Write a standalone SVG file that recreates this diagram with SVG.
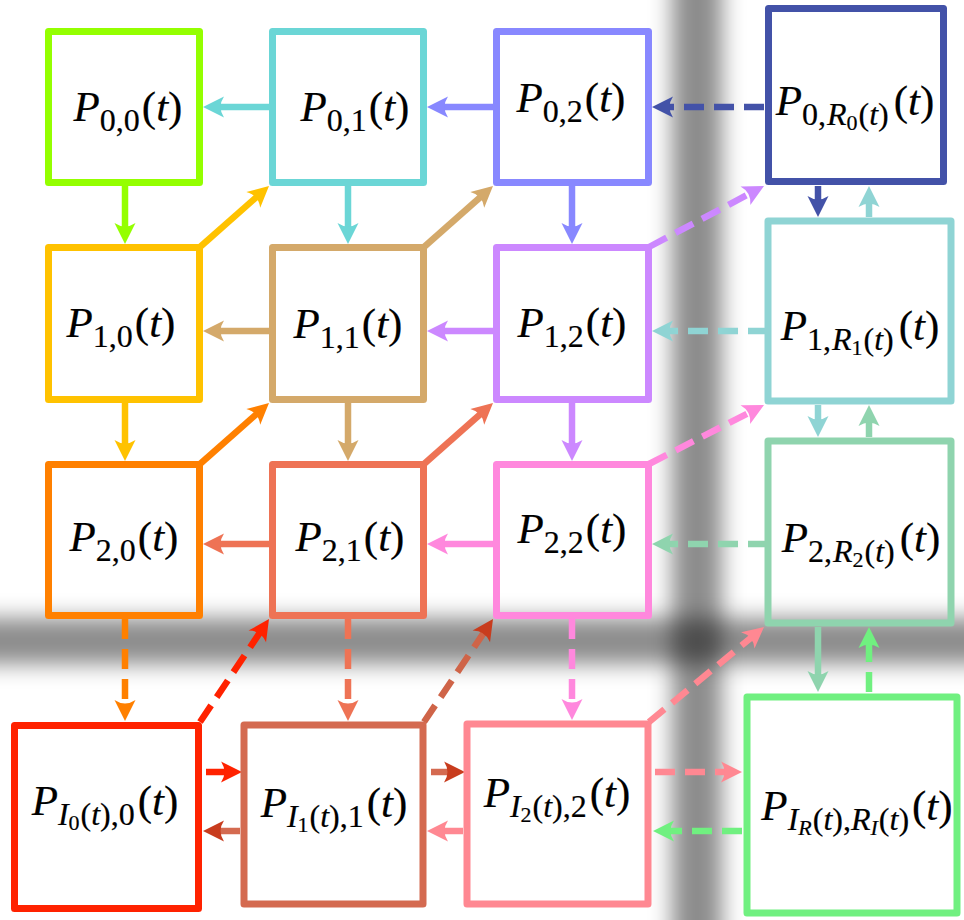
<svg xmlns="http://www.w3.org/2000/svg" xmlns:xlink="http://www.w3.org/1999/xlink" width="964" height="920" viewBox="0 0 964 920">
<defs>
<filter id="blur" filterUnits="userSpaceOnUse" x="-100" y="-100" width="1164" height="1120"><feGaussianBlur stdDeviation="11"/></filter>
<path id="ah" d="M0,0 L-21,-10.5 Q-14,0 -21,10.5 Z"/>
<style>
.box{fill:none;stroke-width:7;stroke-linejoin:round}
.c{fill:none;stroke-width:6.5}
.d{stroke-dasharray:20 10}
.m{font-size:43px;fill:#000;stroke:#000;stroke-width:0.2;text-anchor:middle}
.i{font-style:italic}
.band{fill:#000;fill-opacity:0.45;filter:url(#blur)}
</style>
</defs>
<rect width="964" height="920" fill="#fff"/>
<g id="bands">
<rect class="band" x="672" y="-60" width="50" height="1040"/>
<rect class="band" x="-60" y="618" width="1084" height="46"/>
</g>

<g id="connectors">
<line class="c" stroke="#6bd6d6" x1="272" y1="107" x2="217" y2="107"/><use xlink:href="#ah" fill="#6bd6d6" transform="translate(203,107) rotate(180)"/>
<line class="c" stroke="#8888ff" x1="496" y1="107" x2="441" y2="107"/><use xlink:href="#ah" fill="#8888ff" transform="translate(427,107) rotate(180)"/>
<line class="c d" stroke="#4352a8" x1="764" y1="107" x2="666" y2="107"/><use xlink:href="#ah" fill="#4352a8" transform="translate(652,107) rotate(180)"/>
<line class="c" stroke="#94ff00" x1="125" y1="186" x2="125" y2="230"/><use xlink:href="#ah" fill="#94ff00" transform="translate(125,244) rotate(90)"/>
<line class="c" stroke="#6bd6d6" x1="348" y1="186" x2="348" y2="230"/><use xlink:href="#ah" fill="#6bd6d6" transform="translate(348,244) rotate(90)"/>
<line class="c" stroke="#8888ff" x1="572" y1="186" x2="572" y2="230"/><use xlink:href="#ah" fill="#8888ff" transform="translate(572,244) rotate(90)"/>
<line class="c" stroke="#4352a8" x1="818" y1="186" x2="818" y2="203"/><use xlink:href="#ah" fill="#4352a8" transform="translate(818,217) rotate(90)"/>
<line class="c" stroke="#8fd4d4" x1="869" y1="217" x2="869" y2="200"/><use xlink:href="#ah" fill="#8fd4d4" transform="translate(869,186) rotate(-90)"/>
<line class="c" stroke="#ffc200" x1="200" y1="247" x2="258.5" y2="195.3"/><use xlink:href="#ah" fill="#ffc200" transform="translate(269,186) rotate(-41.5)"/>
<line class="c" stroke="#d4a96a" x1="424" y1="247" x2="482.5" y2="195.3"/><use xlink:href="#ah" fill="#d4a96a" transform="translate(493,186) rotate(-41.5)"/>
<line class="c d" stroke="#cc88ff" x1="649" y1="247" x2="751.6" y2="192.6"/><use xlink:href="#ah" fill="#cc88ff" transform="translate(764,186) rotate(-27.9)"/>
<line class="c" stroke="#d4a96a" x1="272" y1="331" x2="217" y2="331"/><use xlink:href="#ah" fill="#d4a96a" transform="translate(203,331) rotate(180)"/>
<line class="c" stroke="#cc88ff" x1="496" y1="331" x2="441" y2="331"/><use xlink:href="#ah" fill="#cc88ff" transform="translate(427,331) rotate(180)"/>
<line class="c d" stroke="#8fd4d4" x1="768" y1="331" x2="666" y2="331"/><use xlink:href="#ah" fill="#8fd4d4" transform="translate(652,331) rotate(180)"/>
<line class="c" stroke="#ffc200" x1="125" y1="403" x2="125" y2="447"/><use xlink:href="#ah" fill="#ffc200" transform="translate(125,461) rotate(90)"/>
<line class="c" stroke="#d4a96a" x1="348" y1="403" x2="348" y2="447"/><use xlink:href="#ah" fill="#d4a96a" transform="translate(348,461) rotate(90)"/>
<line class="c" stroke="#cc88ff" x1="572" y1="403" x2="572" y2="447"/><use xlink:href="#ah" fill="#cc88ff" transform="translate(572,461) rotate(90)"/>
<line class="c" stroke="#8fd4d4" x1="818" y1="405" x2="818" y2="423"/><use xlink:href="#ah" fill="#8fd4d4" transform="translate(818,437) rotate(90)"/>
<line class="c" stroke="#8fd4ae" x1="869" y1="437" x2="869" y2="419"/><use xlink:href="#ah" fill="#8fd4ae" transform="translate(869,405) rotate(-90)"/>
<line class="c" stroke="#ff8000" x1="200" y1="464" x2="258.5" y2="412.3"/><use xlink:href="#ah" fill="#ff8000" transform="translate(269,403) rotate(-41.5)"/>
<line class="c" stroke="#ee7355" x1="424" y1="464" x2="482.5" y2="412.3"/><use xlink:href="#ah" fill="#ee7355" transform="translate(493,403) rotate(-41.5)"/>
<line class="c d" stroke="#ff88dd" x1="649" y1="464" x2="751.6" y2="411.4"/><use xlink:href="#ah" fill="#ff88dd" transform="translate(764,405) rotate(-27.2)"/>
<line class="c" stroke="#ee7355" x1="272" y1="544" x2="217" y2="544"/><use xlink:href="#ah" fill="#ee7355" transform="translate(203,544) rotate(180)"/>
<line class="c" stroke="#ff88dd" x1="496" y1="544" x2="441" y2="544"/><use xlink:href="#ah" fill="#ff88dd" transform="translate(427,544) rotate(180)"/>
<line class="c d" stroke="#8fd4ae" x1="768" y1="544" x2="666" y2="544"/><use xlink:href="#ah" fill="#8fd4ae" transform="translate(652,544) rotate(180)"/>
<line class="c d" stroke="#ff8000" x1="125" y1="619" x2="125" y2="707"/><use xlink:href="#ah" fill="#ff8000" transform="translate(125,721) rotate(90)"/>
<line class="c d" stroke="#ee7355" x1="348" y1="619" x2="348" y2="707"/><use xlink:href="#ah" fill="#ee7355" transform="translate(348,721) rotate(90)"/>
<line class="c d" stroke="#ff88dd" x1="572" y1="619" x2="572" y2="706"/><use xlink:href="#ah" fill="#ff88dd" transform="translate(572,720) rotate(90)"/>
<line class="c" stroke="#8fd4ae" x1="818" y1="627" x2="818" y2="678"/><use xlink:href="#ah" fill="#8fd4ae" transform="translate(818,692) rotate(90)"/>
<line class="c d" stroke="#70f080" x1="869" y1="692" x2="869" y2="641"/><use xlink:href="#ah" fill="#70f080" transform="translate(869,627) rotate(-90)"/>
<line class="c d" stroke="#ff2200" x1="200" y1="722" x2="261.2" y2="630.6"/><use xlink:href="#ah" fill="#ff2200" transform="translate(269,619) rotate(-56.2)"/>
<line class="c d" stroke="#cf6448" x1="424" y1="722" x2="485.2" y2="630.6"/><use xlink:href="#ah" fill="#c83c1e" transform="translate(493,619) rotate(-56.2)"/>
<line class="c d" stroke="#ff8892" x1="649" y1="722" x2="753.2" y2="635.9"/><use xlink:href="#ah" fill="#ff8892" transform="translate(764,627) rotate(-39.6)"/>
<line class="c" stroke="#ff2200" x1="206" y1="772" x2="226" y2="772"/><use xlink:href="#ah" fill="#ff2200" transform="translate(242,772)"/>
<line class="c" stroke="#d46a50" x1="240" y1="831" x2="220" y2="831"/><use xlink:href="#ah" fill="#c83c1e" transform="translate(203,831) rotate(180)"/>
<line class="c" stroke="#d46a50" x1="431" y1="772" x2="449" y2="772"/><use xlink:href="#ah" fill="#c83c1e" transform="translate(465,772)"/>
<line class="c" stroke="#ff8892" x1="463" y1="831" x2="443" y2="831"/><use xlink:href="#ah" fill="#ff8892" transform="translate(427,831) rotate(180)"/>
<line class="c d" stroke="#ff8892" x1="655" y1="772" x2="728" y2="772"/><use xlink:href="#ah" fill="#ff8892" transform="translate(742,772)"/>
<line class="c d" stroke="#70f080" x1="742" y1="831" x2="667" y2="831"/><use xlink:href="#ah" fill="#70f080" transform="translate(653,831) rotate(180)"/>
</g>

<g font-family="'Liberation Serif', 'DejaVu Serif', serif">
<g id="n00"><rect class="box" stroke="#94ff00" x="48.5" y="31.5" width="151" height="151"/>
<text class="m" x="128" y="121"><tspan class="i">P</tspan><tspan font-size="32" dy="10">0,0</tspan><tspan dy="-10" dx="2">(</tspan><tspan class="i">t</tspan>)</text></g>
<g id="n01"><rect class="box" stroke="#6bd6d6" x="272.5" y="31.5" width="151" height="151"/>
<text class="m" x="355" y="121"><tspan class="i">P</tspan><tspan font-size="32" dy="10">0,1</tspan><tspan dy="-10" dx="2">(</tspan><tspan class="i">t</tspan>)</text></g>
<g id="n02"><rect class="box" stroke="#8888ff" x="496.5" y="31.5" width="152" height="151"/>
<text class="m" x="571" y="112"><tspan class="i">P</tspan><tspan font-size="32" dy="10">0,2</tspan><tspan dy="-10" dx="2">(</tspan><tspan class="i">t</tspan>)</text></g>
<g id="n0R"><rect class="box" stroke="#4352a8" stroke-width="9" x="768.5" y="8.5" width="175" height="173"/>
<text class="m" x="855" y="115"><tspan class="i">P</tspan><tspan font-size="32" dy="10">0,</tspan><tspan font-size="32" class="i" dx="1">R</tspan><tspan font-size="22" dy="5">0</tspan><tspan font-size="32" dy="-5" dx="1">(</tspan><tspan font-size="32" class="i">t</tspan><tspan font-size="32">)</tspan><tspan dy="-10" dx="5">(</tspan><tspan class="i">t</tspan>)</text></g>

<g id="n10"><rect class="box" stroke="#ffc200" x="48.5" y="247.5" width="151" height="152"/>
<text class="m" x="121" y="337"><tspan class="i">P</tspan><tspan font-size="32" dy="10">1,0</tspan><tspan dy="-10" dx="2">(</tspan><tspan class="i">t</tspan>)</text></g>
<g id="n11"><rect class="box" stroke="#d4a96a" x="272.5" y="247.5" width="151" height="152"/>
<text class="m" x="348" y="338"><tspan class="i">P</tspan><tspan font-size="32" dy="10">1,1</tspan><tspan dy="-10" dx="2">(</tspan><tspan class="i">t</tspan>)</text></g>
<g id="n12"><rect class="box" stroke="#cc88ff" x="496.5" y="247.5" width="152" height="152"/>
<text class="m" x="572" y="337"><tspan class="i">P</tspan><tspan font-size="32" dy="10">1,2</tspan><tspan dy="-10" dx="2">(</tspan><tspan class="i">t</tspan>)</text></g>
<g id="n1R"><rect class="box" stroke="#8fd4d4" stroke-width="8" x="768" y="221" width="183" height="180"/>
<text class="m" x="860" y="340"><tspan class="i">P</tspan><tspan font-size="32" dy="10">1,</tspan><tspan font-size="32" class="i" dx="1">R</tspan><tspan font-size="22" dy="5">1</tspan><tspan font-size="32" dy="-5" dx="1">(</tspan><tspan font-size="32" class="i">t</tspan><tspan font-size="32">)</tspan><tspan dy="-10" dx="5">(</tspan><tspan class="i">t</tspan>)</text></g>

<g id="n20"><rect class="box" stroke="#ff8000" x="48.5" y="464.5" width="151" height="151"/>
<text class="m" x="124" y="551"><tspan class="i">P</tspan><tspan font-size="32" dy="10">2,0</tspan><tspan dy="-10" dx="2">(</tspan><tspan class="i">t</tspan>)</text></g>
<g id="n21"><rect class="box" stroke="#ee7355" x="272.5" y="464.5" width="151" height="151"/>
<text class="m" x="350" y="551"><tspan class="i">P</tspan><tspan font-size="32" dy="10">2,1</tspan><tspan dy="-10" dx="2">(</tspan><tspan class="i">t</tspan>)</text></g>
<g id="n22"><rect class="box" stroke="#ff88dd" x="496.5" y="464.5" width="152" height="151"/>
<text class="m" x="572" y="543"><tspan class="i">P</tspan><tspan font-size="32" dy="10">2,2</tspan><tspan dy="-10" dx="2">(</tspan><tspan class="i">t</tspan>)</text></g>
<g id="n2R"><rect class="box" stroke="#8fd4ae" stroke-width="8" x="768" y="441" width="183" height="182"/>
<text class="m" x="861" y="552"><tspan class="i">P</tspan><tspan font-size="32" dy="10">2,</tspan><tspan font-size="32" class="i" dx="1">R</tspan><tspan font-size="22" dy="5">2</tspan><tspan font-size="32" dy="-5" dx="1">(</tspan><tspan font-size="32" class="i">t</tspan><tspan font-size="32">)</tspan><tspan dy="-10" dx="5">(</tspan><tspan class="i">t</tspan>)</text></g>

<g id="nI0"><rect class="box" stroke="#ff2200" stroke-width="9" x="14.5" y="725.5" width="184" height="183"/>
<text class="m" x="105" y="815"><tspan class="i">P</tspan><tspan font-size="32" dy="10" class="i">I</tspan><tspan font-size="22" dy="5">0</tspan><tspan font-size="32" dy="-5" dx="1">(</tspan><tspan font-size="32" class="i">t</tspan><tspan font-size="32">),0</tspan><tspan dy="-10" dx="3">(</tspan><tspan class="i">t</tspan>)</text></g>
<g id="nI1"><rect class="box" stroke="#d46a50" stroke-width="8" x="244" y="725" width="179" height="179"/>
<text class="m" x="334" y="817"><tspan class="i">P</tspan><tspan font-size="32" dy="10" class="i">I</tspan><tspan font-size="22" dy="5">1</tspan><tspan font-size="32" dy="-5" dx="1">(</tspan><tspan font-size="32" class="i">t</tspan><tspan font-size="32">),1</tspan><tspan dy="-10" dx="3">(</tspan><tspan class="i">t</tspan>)</text></g>
<g id="nI2"><rect class="box" stroke="#ff8892" stroke-width="8" x="467" y="724" width="181" height="180"/>
<text class="m" x="557" y="807"><tspan class="i">P</tspan><tspan font-size="32" dy="10" class="i">I</tspan><tspan font-size="22" dy="5">2</tspan><tspan font-size="32" dy="-5" dx="1">(</tspan><tspan font-size="32" class="i">t</tspan><tspan font-size="32">),2</tspan><tspan dy="-10" dx="3">(</tspan><tspan class="i">t</tspan>)</text></g>
<g id="nIR"><rect class="box" stroke="#70f080" stroke-width="10" x="747" y="697" width="210" height="216"/>
<text class="m" x="857" y="820"><tspan class="i">P</tspan><tspan font-size="32" dy="10" class="i">I</tspan><tspan font-size="22" dy="5" class="i">R</tspan><tspan font-size="32" dy="-5" dx="1">(</tspan><tspan font-size="32" class="i">t</tspan><tspan font-size="32">),</tspan><tspan font-size="32" class="i">R</tspan><tspan font-size="22" dy="5" class="i">I</tspan><tspan font-size="32" dy="-5" dx="1">(</tspan><tspan font-size="32" class="i">t</tspan><tspan font-size="32">)</tspan><tspan dy="-10" dx="3">(</tspan><tspan class="i">t</tspan>)</text></g>
</g>
</svg>
